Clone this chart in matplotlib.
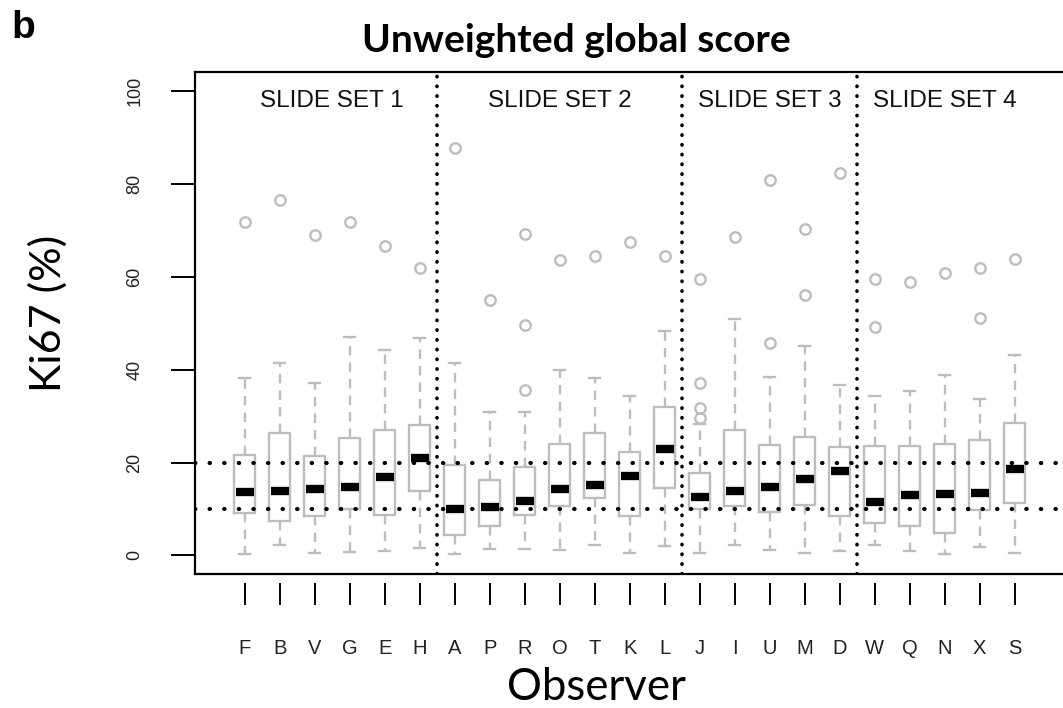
import numpy as np
import matplotlib
matplotlib.use('Agg')
import matplotlib.pyplot as plt
from matplotlib import font_manager

# observers, in plotting order, grouped by slide set
observers = ['F', 'B', 'V', 'G', 'E', 'H',
             'A', 'P', 'R', 'O', 'T', 'K', 'L',
             'J', 'I', 'U', 'M', 'D',
             'W', 'Q', 'N', 'X', 'S']
set_names = ['SLIDE SET 1', 'SLIDE SET 2', 'SLIDE SET 3', 'SLIDE SET 4']
set_sizes = [6, 7, 5, 5]

# Ki67 (%) box statistics per observer
q1 = [9.1, 7.5, 8.5, 10.0, 8.8, 13.8,
      4.3, 6.3, 8.6, 10.6, 12.4, 8.4, 14.5,
      9.9, 10.6, 9.3, 10.8, 8.4,
      7.0, 6.3, 4.8, 9.7, 11.3]
med = [13.6, 13.9, 14.4, 14.7, 16.9, 21.0,
       10.1, 10.4, 11.7, 14.3, 15.2, 17.1, 23.0,
       12.6, 13.9, 14.7, 16.5, 18.2,
       11.6, 13.1, 13.3, 13.4, 18.7]
q3 = [21.6, 26.4, 21.3, 25.3, 27.1, 28.0,
      19.4, 16.2, 19.0, 23.9, 26.4, 22.3, 32.0,
      17.7, 26.9, 23.7, 25.6, 23.3,
      23.6, 23.6, 23.9, 24.8, 28.5]
wlo = [0.4, 2.2, 0.6, 0.7, 0.9, 1.5,
       0.4, 1.4, 1.4, 1.1, 2.3, 0.6, 2.0,
       0.6, 2.3, 1.1, 0.6, 0.9,
       2.3, 0.9, 0.4, 1.8, 0.6]
whi = [38.1, 41.5, 37.2, 47.1, 44.2, 46.8,
       41.5, 30.8, 30.9, 39.9, 38.1, 34.3, 48.3,
       28.2, 50.8, 38.4, 45.1, 36.6,
       34.4, 35.4, 38.8, 33.6, 43.1]
outliers = [[71.7], [76.5], [68.9], [71.7], [66.7], [61.8],
            [87.8], [55.1], [35.6, 49.7, 69.3], [63.7], [64.4], [67.4], [64.4],
            [29.6, 31.8, 37.1, 59.5], [68.6], [45.8, 80.8], [56.0, 70.2], [82.4],
            [49.2, 59.5], [58.9], [60.9], [51.2, 61.8], [63.8]]

ref_lines = [10, 20]

names = {f.name for f in font_manager.fontManager.ttflist}
arial = 'Liberation Sans'
narrow = 'Liberation Sans Narrow' if 'Liberation Sans Narrow' in names else arial
calib = 'Lato'

grey = '#bdbdbd'
pos = np.arange(1, len(observers) + 1)

fig = plt.figure(figsize=(10.63, 7.08), dpi=100)
ax = fig.add_axes([195 / 1063, 1 - 574 / 708, 869.4 / 1063, 501.6 / 708])

stats = []
for i in range(len(observers)):
    stats.append(dict(med=med[i], q1=q1[i], q3=q3[i], whislo=wlo[i],
                      whishi=whi[i], fliers=outliers[i]))

ax.bxp(stats, positions=pos, widths=0.6, capwidths=0.33,
       boxprops=dict(color=grey, linewidth=1.7),
       whiskerprops=dict(color=grey, linewidth=1.7, linestyle=(0, (4, 3))),
       capprops=dict(color=grey, linewidth=1.7),
       flierprops=dict(marker='o', markersize=7.5, markerfacecolor='none',
                       markeredgecolor=grey, markeredgewidth=1.7),
       medianprops=dict(visible=False))
ax.hlines(med, pos - 0.26, pos + 0.26, colors='black', linewidth=6, zorder=4)

# reference lines and slide set separators
for r in ref_lines:
    ax.axhline(r, color='black', linewidth=3, linestyle=(0, (0.1, 3.4)),
               dash_capstyle='round', zorder=5)
edges = np.cumsum(set_sizes)
for e in edges[:-1]:
    ax.axvline(e + 0.5, color='black', linewidth=2.6, linestyle=(0, (0.1, 2.6)),
               dash_capstyle='round', zorder=5)
starts = np.concatenate([[0], edges[:-1]])
for name, s, e in zip(set_names, starts, edges):
    ax.text((s + 1 + e) / 2, 97.8, name, ha='center', va='center',
            fontsize=17.5, family=arial, color='#111111')

ax.set_xlim(-0.42, 24.42)
ax.set_ylim(-4, 104)
ax.set_yticks([0, 20, 40, 60, 80, 100])
ax.tick_params(axis='y', length=17, width=1.4, pad=20, labelsize=13,
               labelrotation=90)
for t in ax.get_yticklabels():
    t.set_family(arial)
    t.set_va('center')
    t.set_color('#222222')
ax.set_xticks([])
for sp in ax.spines.values():
    sp.set_linewidth(1.6)

# x axis drawn slightly below the box
sec = ax.secondary_xaxis(-0.018)
sec.set_xticks(pos)
sec.set_xticklabels(observers, family=narrow, fontsize=14.5, color='#222222')
sec.tick_params(length=16, width=1.4, pad=24)
sec.spines['bottom'].set_visible(False)

fig.text(576 / 1063, 1 - 40 / 708, 'Unweighted global score', ha='center',
         va='center', fontsize=28, fontweight='bold', family=calib)
fig.text(48 / 1063, 1 - 313 / 708, 'Ki67 (%)', ha='center', va='center',
         rotation=90, fontsize=31, family=calib)
fig.text(596 / 1063, 1 - 688 / 708, 'Observer', ha='center', va='center',
         fontsize=31.5, family=calib)
fig.text(23 / 1063, 1 - 28 / 708, 'b', ha='center', va='center',
         fontsize=28, fontweight='bold', family=arial)

fig.savefig('out.png', dpi=100)
